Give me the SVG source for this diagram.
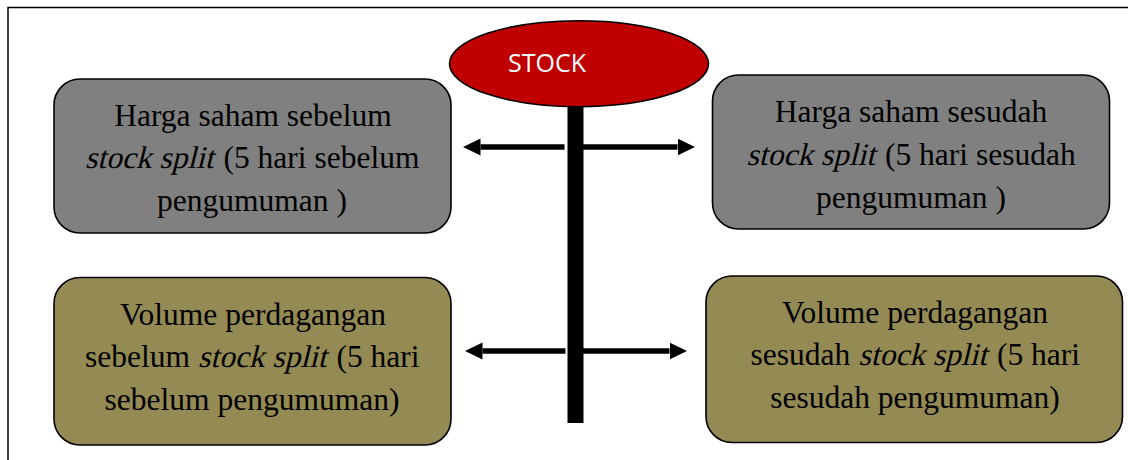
<svg xmlns="http://www.w3.org/2000/svg" width="1128" height="460" viewBox="0 0 1128 460">
  <style>
    .frame { stroke: #000; stroke-width: 1.5; fill: none; }
    .box { stroke: #000; stroke-width: 1.6; }
    .grey { fill: #808080; }
    .olive { fill: #948A54; }
    .label { font-family: "Liberation Serif", "Times New Roman", serif; font-size: 31.5px; fill: #000; text-anchor: middle; }
    .run { font-family: "Liberation Serif", "Times New Roman", serif; font-size: 31.5px; fill: #000; }
    .conn { stroke: #000; stroke-width: 5.5; fill: none; }
  </style>
  <defs>
    <marker id="head" markerUnits="userSpaceOnUse" markerWidth="18" markerHeight="18" refX="0" refY="8.5" orient="auto">
      <path d="M0,0 L17.5,8.5 L0,17 Z" fill="#000"/>
    </marker>
    <!-- slanted run used for the emphasised words -->
    <text id="slant" class="run" x="0" y="0" transform="skewX(-14)">stock split</text>
  </defs>
  <rect width="1128" height="460" fill="#fff"/>

  <!-- page frame: top and left rules -->
  <path class="frame" d="M8,460 V7.5 H1128"/>

  <!-- central stem and arrows -->
  <g id="connectors">
    <rect x="567.5" y="100" width="16" height="323" fill="#000"/>
    <line class="conn" x1="564.5" y1="147" x2="480.5" y2="147" marker-end="url(#head)"/>
    <line class="conn" x1="583" y1="147" x2="677.5" y2="147" marker-end="url(#head)"/>
    <line class="conn" x1="565.5" y1="351" x2="482.5" y2="351" marker-end="url(#head)"/>
    <line class="conn" x1="583" y1="351" x2="669.5" y2="351" marker-end="url(#head)"/>
  </g>

  <g id="stock">
    <ellipse cx="579" cy="63.7" rx="129.5" ry="43" fill="#C00000" stroke="#000" stroke-width="1.6"/>
    <text x="508" y="72" font-family="'Open Sans', 'Liberation Sans', sans-serif" font-size="25" fill="#fff">STOCK</text>
  </g>

  <g id="price-before">
    <rect class="box grey" x="54" y="79" width="397" height="154" rx="26"/>
    <text class="label" x="253" y="126">Harga saham sebelum</text>
    <use href="#slant" x="85" y="168"/>
    <text class="run" x="223.5" y="168">(5 hari sebelum</text>
    <text class="label" x="252" y="211">pengumuman )</text>
  </g>

  <g id="price-after">
    <rect class="box grey" x="712.5" y="75" width="397" height="154" rx="26"/>
    <text class="label" x="911" y="122">Harga saham sesudah</text>
    <use href="#slant" x="746.5" y="165"/>
    <text class="run" x="885" y="165">(5 hari sesudah</text>
    <text class="label" x="911" y="208">pengumuman )</text>
  </g>

  <g id="volume-before">
    <rect class="box olive" x="54" y="277.5" width="397" height="167.5" rx="26"/>
    <text class="label" x="253" y="325">Volume perdagangan</text>
    <text class="run" x="85" y="367">sebelum</text>
    <use href="#slant" x="198" y="367"/>
    <text class="run" x="336.5" y="367">(5 hari</text>
    <text class="label" x="252" y="410">sebelum pengumuman)</text>
  </g>

  <g id="volume-after">
    <rect class="box olive" x="706" y="276" width="416.5" height="166.5" rx="26"/>
    <text class="label" x="915" y="323">Volume perdagangan</text>
    <text class="run" x="750.5" y="365">sesudah</text>
    <use href="#slant" x="858.5" y="365"/>
    <text class="run" x="997" y="365">(5 hari</text>
    <text class="label" x="915" y="408">sesudah pengumuman)</text>
  </g>
</svg>
